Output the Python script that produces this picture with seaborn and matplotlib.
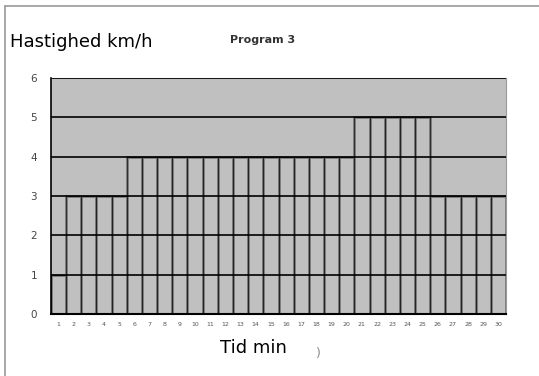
import matplotlib
matplotlib.use("Agg")
import matplotlib.pyplot as plt
from matplotlib.lines import Line2D
import seaborn as sns
import pandas as pd

# Program 3: treadmill speed per minute
minutes = list(range(1, 31))
speed_kmh = [1, 3, 3, 3, 3,
             4, 4, 4, 4, 4, 4, 4, 4, 4, 4, 4, 4, 4, 4, 4,
             5, 5, 5, 5, 5,
             3, 3, 3, 3, 3]
y_ticks = [0, 1, 2, 3, 4, 5, 6]

df = pd.DataFrame({"Tid": [str(m) for m in minutes], "Hastighed": speed_kmh})

sns.set_theme(style="white")
plt.rcParams["font.family"] = ["DejaVu Sans"]

fig = plt.figure(figsize=(5.39, 3.76), dpi=100)
ax = fig.add_axes([0.0946, 0.1649, 0.8442, 0.6277])
ax.set_facecolor("#c0c0c0")

sns.barplot(data=df, x="Tid", y="Hastighed", ax=ax, color="#c0c0c0",
            saturation=1, width=1.0, edgecolor="#777777", linewidth=2.0,
            zorder=2)
# thin dark core on each bar outline
sns.barplot(data=df, x="Tid", y="Hastighed", ax=ax, fill=False,
            width=1.0, edgecolor="#222222", linewidth=0.6, zorder=2.5)

# horizontal gridlines drawn over the bars
for t in y_ticks[1:]:
    ax.axhline(t, color="black", linewidth=1.2, zorder=3)

ax.set_ylim(0, 6)
ax.set_xlim(-0.5, len(minutes) - 0.5)
ax.set_yticks(y_ticks)
ax.set_yticklabels([str(t) for t in y_ticks], fontsize=7.5, color="#444444")
ax.set_xticks(range(len(minutes)))
ax.set_xticklabels([str(m) for m in minutes], fontsize=4.5, color="#555555")
ax.tick_params(axis="y", length=0, pad=10)
ax.tick_params(axis="x", length=0, pad=6)
ax.set_xlabel("")
ax.set_ylabel("")

for side in ["top", "right"]:
    ax.spines[side].set_visible(True)
    ax.spines[side].set_color("#999999")
    ax.spines[side].set_linewidth(0.8)
ax.spines["left"].set_color("black")
ax.spines["left"].set_linewidth(1.2)
ax.spines["bottom"].set_color("black")
ax.spines["bottom"].set_linewidth(1.5)

# texts around the plot
fig.text(10 / 539, 1 - 42 / 376, "Hastighed km/h", fontsize=13,
         ha="left", va="center", color="black")
fig.text(263 / 539, 1 - 40 / 376, "Program 3", fontsize=8,
         fontweight="bold", ha="center", va="center", color="#333333")
fig.text(253 / 539, 1 - 348 / 376, "Tid min", fontsize=13,
         ha="center", va="center", color="black")
fig.text(318 / 539, 1 - 354 / 376, ")", fontsize=9,
         ha="center", va="center", color="#888888")

# page frame on top and left
fig.add_artist(Line2D([5 / 539, 1.0], [1 - 6 / 376, 1 - 6 / 376],
                      color="#999999", linewidth=1.2))
fig.add_artist(Line2D([5 / 539, 5 / 539], [0.0, 1 - 6 / 376],
                      color="#999999", linewidth=1.2))

fig.savefig("out.png", dpi=100)
